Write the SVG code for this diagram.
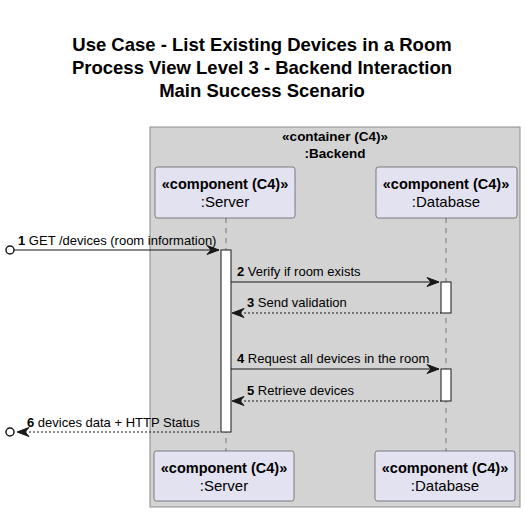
<svg xmlns="http://www.w3.org/2000/svg" width="525" height="513" viewBox="0 0 525 513">
<defs>
<style>
text{font-family:"Liberation Sans",Arial,sans-serif;fill:#000}
.title{font-size:18.5px;font-weight:bold;text-anchor:middle}
.cst{font-size:13.5px;font-weight:bold;text-anchor:middle}
.st{font-size:14.5px;font-weight:bold;text-anchor:middle}
.nm{font-size:15px;text-anchor:middle}
.msg{font-size:13px}
.num{font-weight:bold}
.part{fill:#E2E2F0;stroke:#181818;stroke-width:0.5}
.life{stroke:#181818;stroke-width:0.5;stroke-dasharray:5,5;fill:none}
.act{fill:#FFFFFF;stroke:#181818;stroke-width:1}
.line{stroke:#181818;stroke-width:1;fill:none}
.dash{stroke:#181818;stroke-width:1;stroke-dasharray:2,2;fill:none}
.head{fill:#181818;stroke:#181818;stroke-width:1}
</style>
</defs>
<rect width="525" height="513" fill="#FFFFFF"/>
<g id="title">
<text class="title" x="262" y="51">Use Case - List Existing Devices in a Room</text>
<text class="title" x="262" y="74">Process View Level 3 - Backend Interaction</text>
<text class="title" x="262" y="97">Main Success Scenario</text>
</g>
<g id="backend">
<rect x="150" y="127" width="370" height="380" fill="#D3D3D3" stroke="#8C8C8C" stroke-width="1"/>
<text class="cst" x="335" y="141">«container (C4)»</text>
<text class="cst" x="335" y="158">:Backend</text>
</g>
<g id="lifelines">
<line class="life" x1="226" y1="218" x2="226" y2="451"/>
<line class="life" x1="446" y1="218" x2="446" y2="451"/>
</g>
<g id="server">
<rect class="part" x="155" y="167" width="140" height="51" rx="2.5"/>
<text class="st" x="225" y="189">«component (C4)»</text>
<text class="nm" x="225" y="207">:Server</text>
<rect class="part" x="154" y="451" width="140" height="50" rx="2.5"/>
<text class="st" x="224" y="473">«component (C4)»</text>
<text class="nm" x="224" y="491">:Server</text>
</g>
<g id="database">
<rect class="part" x="376" y="167" width="141" height="51" rx="2.5"/>
<text class="st" x="446" y="189">«component (C4)»</text>
<text class="nm" x="446" y="207">:Database</text>
<rect class="part" x="375" y="451" width="140" height="50" rx="2.5"/>
<text class="st" x="445" y="473">«component (C4)»</text>
<text class="nm" x="445" y="491">:Database</text>
</g>
<g id="activations">
<rect class="act" x="221" y="250" width="10" height="182"/>
<rect class="act" x="441" y="282" width="10" height="31"/>
<rect class="act" x="441" y="369" width="10" height="32"/>
</g>
<g id="connectors">
<circle cx="10" cy="250" r="4" fill="#FFFFFF" stroke="#181818" stroke-width="1.5"/>
<line class="line" x1="14" y1="250" x2="219" y2="250"/>
<polygon class="head" points="219,250 207,245.5 211,250 207,254.5"/>
<text class="msg" x="18" y="245"><tspan class="num">1</tspan> GET /devices (room information)</text>

<line class="line" x1="231" y1="282" x2="439" y2="282"/>
<polygon class="head" points="439,282 427,277.5 431,282 427,286.5"/>
<text class="msg" x="237" y="276"><tspan class="num">2</tspan> Verify if room exists</text>

<line class="dash" x1="236" y1="313" x2="441" y2="313"/>
<polygon class="head" points="232,313 244,308.5 240,313 244,317.5"/>
<text class="msg" x="247" y="307"><tspan class="num">3</tspan> Send validation</text>

<line class="line" x1="231" y1="369" x2="439" y2="369"/>
<polygon class="head" points="439,369 427,364.5 431,369 427,373.5"/>
<text class="msg" x="237" y="363"><tspan class="num">4</tspan> Request all devices in the room</text>

<line class="dash" x1="236" y1="401" x2="441" y2="401"/>
<polygon class="head" points="232,401 244,396.5 240,401 244,405.5"/>
<text class="msg" x="247" y="395"><tspan class="num">5</tspan> Retrieve devices</text>

<line class="dash" x1="21" y1="432" x2="221" y2="432"/>
<polygon class="head" points="17,432 29,427.5 25,432 29,436.5"/>
<circle cx="10" cy="432" r="4" fill="#FFFFFF" stroke="#181818" stroke-width="1.5"/>
<text class="msg" x="27" y="427"><tspan class="num">6</tspan> devices data + HTTP Status</text>
</g>
</svg>
